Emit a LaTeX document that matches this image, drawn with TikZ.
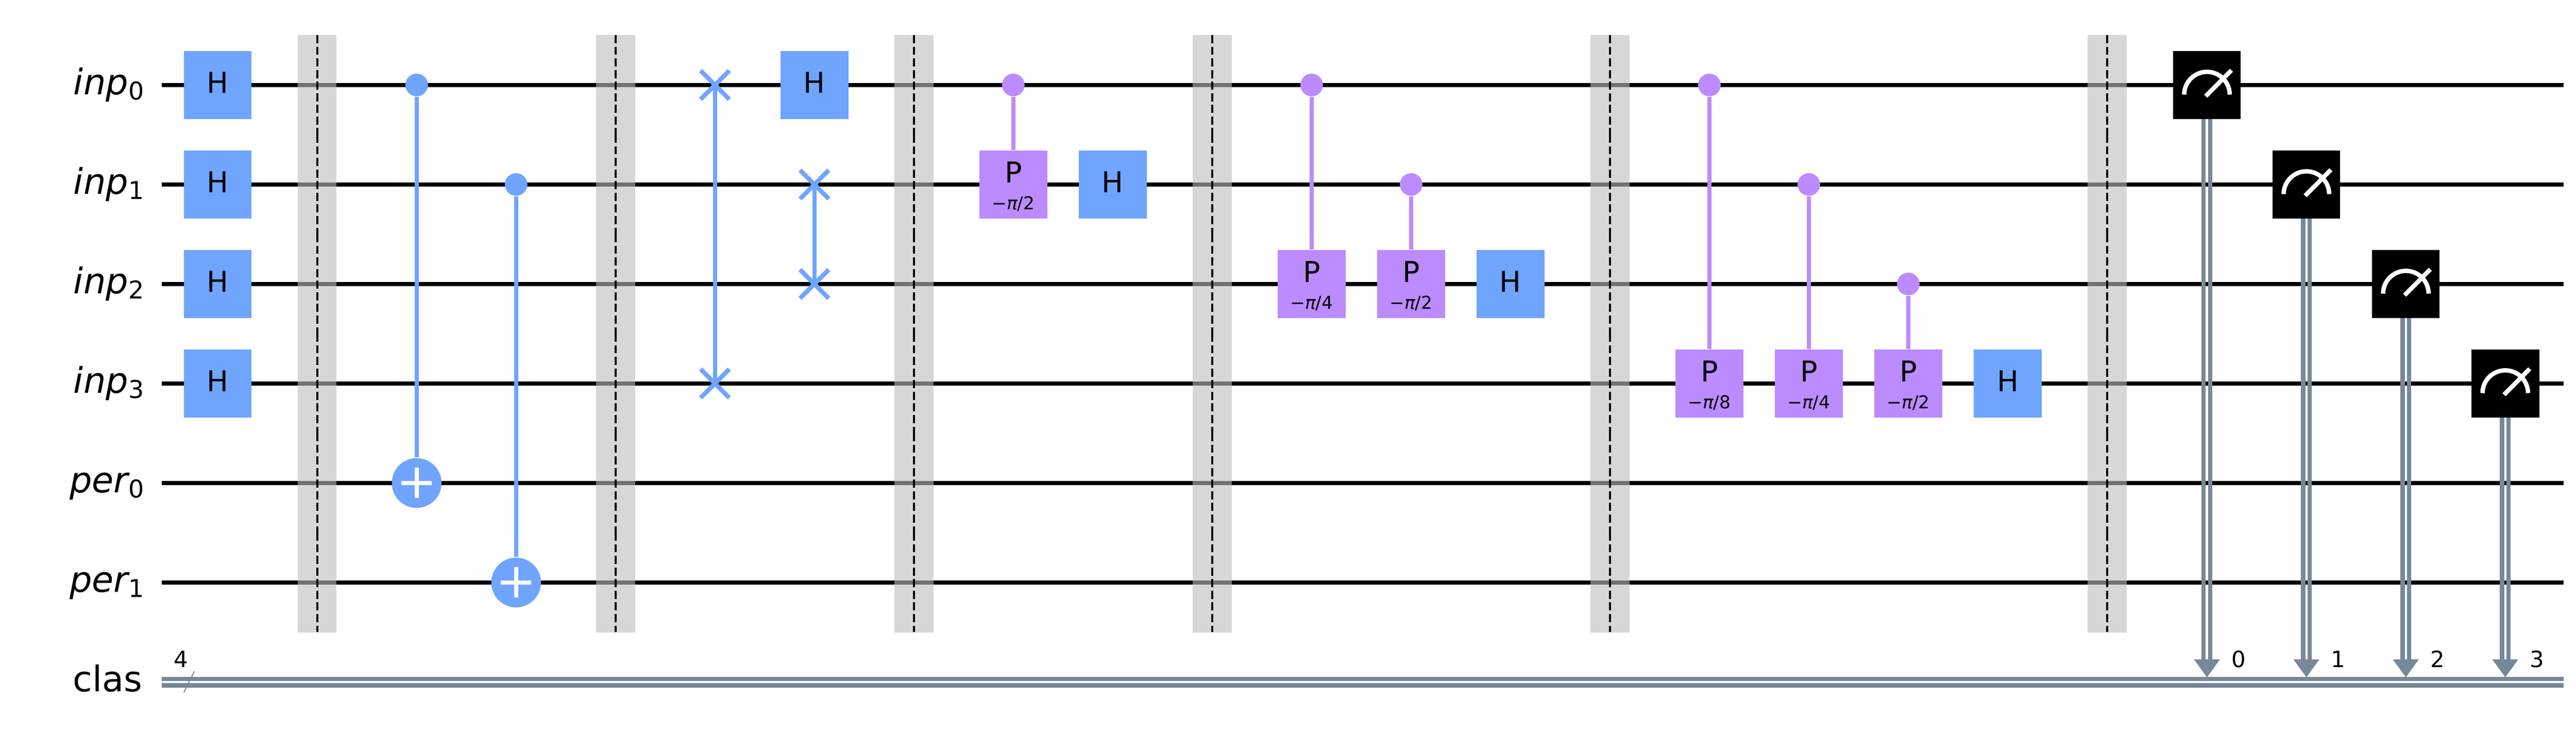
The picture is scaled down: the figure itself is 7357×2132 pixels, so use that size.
\documentclass[tikz,border=0pt]{standalone}
\usepackage{fontspec}
\setmainfont{DejaVu Sans}
\definecolor{qblue}{HTML}{6FA4FF}
\definecolor{qpurple}{HTML}{BB8BFF}
\definecolor{qgray}{HTML}{778899}
\definecolor{qbar}{HTML}{BDBDBD}
\def\ya{242.5}\def\yb{526.5}\def\yc{810.5}\def\yd{1094.5}\def\ye{1378.5}\def\yf{1662.5}
\newcommand{\hgate}[3]{%
  \node[gatebox,fill=qblue] (#1) at (#2,#3) {};
  \node[gatetxt] (#1t) at (#2,#3+22.5) {H};}
\newcommand{\pgate}[4]{%
  \node[gatebox,fill=qpurple] (#1) at (#2,#3) {};
  \node[gatetxt] (#1t) at (#2,#3-5) {P};
  \node[angletxt] (#1a) at (#2,#3+71) {−{\itshape π}/#4};}
\newcommand{\barr}[2]{%
  \node[barbox] (#1) at (#2,952.5) {};
  \foreach \s in {0,...,5}{
    \coordinate (#1s\s) at (#2,100+284*\s);
    \coordinate (#1e\s) at (#2,384+284*\s);
    \draw[bardash] (#1s\s) -- (#1e\s);
  }}
\newcommand{\meas}[5]{%
  \coordinate (#1a) at (#2,1882);
  \draw[cbit] ([xshift=-0.95pt]#1a) -- ([xshift=-0.95pt,yshift=-1pt]#2,#3);
  \draw[cbit] ([xshift=0.95pt]#1a) -- ([xshift=0.95pt,yshift=-1pt]#2,#3);
  \fill[qgray] (#1a) ++(-37,0) -- ++(74,0) -- ++(-37,51) -- cycle;
  \node[measbox] (#1) at (#2,#3) {};
  \draw[meter] (#1.center) ++(-65,27.5) arc[start angle=180,end angle=0,radius=6.5pt];
  \draw[meter] (#1.center) ++(-3.5,32) -- ++(73.5,-74);
  \node[idxtxt] (#1n) at (#2+91,1905) {#4};}
\tikzset{
  x=0.1pt,y=-0.1pt,
  wire/.style={line width=1.25pt,black},
  gatebox/.style={rectangle,draw=none,minimum size=19.35pt,inner sep=0pt},
  gatetxt/.style={anchor=base,inner sep=0pt,font=\fontsize{8.2}{10}\selectfont},
  angletxt/.style={anchor=base,inner sep=0pt,font=\fontsize{5.06}{6}\selectfont},
  idxtxt/.style={anchor=base,inner sep=0pt,font=\fontsize{6.4}{8}\selectfont},
  regtxt/.style={anchor=base east,inner sep=0pt,font=\fontsize{10.1}{12}\selectfont},
  barbox/.style={rectangle,draw=none,fill=qbar,fill opacity=0.6,minimum width=11.1pt,minimum height=170.5pt,inner sep=0pt},
  bardash/.style={line width=0.65pt,black,dash pattern=on 2.33pt off 0.99pt},
  cbit/.style={line width=1.25pt,qgray},
  measbox/.style={rectangle,fill=black,draw=none,minimum size=19.35pt,inner sep=0pt},
  meter/.style={line width=1.25pt,white},
  ctrlb/.style={circle,fill=qblue,draw=none,minimum size=6.45pt,inner sep=0pt},
  ctrlp/.style={circle,fill=qpurple,draw=none,minimum size=6.45pt,inner sep=0pt},
  targ/.style={circle,fill=qblue,draw=none,minimum size=14.2pt,inner sep=0pt},
  linkb/.style={line width=1.25pt,qblue},
  linkp/.style={line width=1.25pt,qpurple},
  plus/.style={line width=1.25pt,white},
}
\begin{document}
\begin{tikzpicture}
\useasboundingbox (0,0) rectangle (7357,2132);
\fill[white] (0,0) rectangle (7357,2132);
% register labels
\def\subs#1{\raisebox{-1.45pt}{\fontsize{7}{8}\selectfont #1}}
\node[regtxt] (l0) at (413,\ya+27.5) {{\itshape inp}\subs{0}};
\node[regtxt] (l1) at (413,\yb+27.5) {{\itshape inp}\subs{1}};
\node[regtxt] (l2) at (413,\yc+27.5) {{\itshape inp}\subs{2}};
\node[regtxt] (l3) at (413,\yd+27.5) {{\itshape inp}\subs{3}};
\node[regtxt] (l4) at (413,\ye+27.5) {{\itshape per}\subs{0}};
\node[regtxt] (l5) at (413,\yf+27.5) {{\itshape per}\subs{1}};
\node[regtxt] (l6) at (408,1974) {clas};
% wires
\foreach \n/\y in {0/\ya,1/\yb,2/\yc,3/\yd,4/\ye,5/\yf}{
  \coordinate (wl\n) at (462,\y);
  \coordinate (wr\n) at (7321,\y);
  \draw[wire] (wl\n) -- (wr\n);
}
\coordinate (cl) at (462,1947);
\coordinate (cr) at (7321,1947);
\draw[cbit] ([yshift=0.95pt]cl) -- ([yshift=0.95pt]cr);
\draw[cbit] ([yshift=-0.95pt]cl) -- ([yshift=-0.95pt]cr);
\coordinate (sa) at (525,1976);
\coordinate (sb) at (555,1916);
\draw[qgray,line width=0.3pt] (sa) -- (sb);
\node[idxtxt] (cn) at (517,1904) {4};
% first H column
\hgate{ha}{622}{\ya}
\hgate{hb}{622}{\yb}
\hgate{hc}{622}{\yc}
\hgate{hd}{622}{\yd}
% CX gates
\node[ctrlb] (c0) at (1190,\ya) {};
\node[targ] (t0) at (1190,\ye) {};
\draw[linkb] (c0) -- (t0);
\draw[plus] (t0.center) ++(-43.5,0) -- ++(87,0);
\draw[plus] (t0.center) ++(0,-43.5) -- ++(0,87);
\node[ctrlb] (c1) at (1474,\yb) {};
\node[targ] (t1) at (1474,\yf) {};
\draw[linkb] (c1) -- (t1);
\draw[plus] (t1.center) ++(-43.5,0) -- ++(87,0);
\draw[plus] (t1.center) ++(0,-43.5) -- ++(0,87);
% swaps
\coordinate (s0a) at (2042,\ya);
\coordinate (s0b) at (2042,\yd);
\coordinate (s1a) at (2326,\yb);
\coordinate (s1b) at (2326,\yc);
\draw[linkb] (s0a) -- (s0b);
\draw[linkb] (s1a) -- (s1b);
\foreach \p in {s0a,s0b,s1a,s1b}{
  \draw[linkb] (\p) ++(-41,-41) -- ++(82,82);
  \draw[linkb] (\p) ++(-41,41) -- ++(82,-82);
}
\hgate{he}{2326}{\ya}
% controlled phases
\node[ctrlp] (c2) at (2894,\ya) {};
\pgate{p0}{2894}{\yb}{2}
\draw[linkp] (c2) -- (p0);
\hgate{hf}{3178}{\yb}
\node[ctrlp] (c3) at (3746,\ya) {};
\pgate{p1}{3746}{\yc}{4}
\draw[linkp] (c3) -- (p1);
\node[ctrlp] (c4) at (4030,\yb) {};
\pgate{p2}{4030}{\yc}{2}
\draw[linkp] (c4) -- (p2);
\hgate{hg}{4314}{\yc}
\node[ctrlp] (c5) at (4882,\ya) {};
\pgate{p3}{4882}{\yd}{8}
\draw[linkp] (c5) -- (p3);
\node[ctrlp] (c6) at (5166,\yb) {};
\pgate{p4}{5166}{\yd}{4}
\draw[linkp] (c6) -- (p4);
\node[ctrlp] (c7) at (5450,\yc) {};
\pgate{p5}{5450}{\yd}{2}
\draw[linkp] (c7) -- (p5);
\hgate{hh}{5734}{\yd}
% barriers
\barr{ba}{906}
\barr{bb}{1758}
\barr{bc}{2610}
\barr{bd}{3462}
\barr{be}{4598}
\barr{bf}{6018}
% measurements
\meas{ma}{6303}{\ya}{0}{}
\meas{mb}{6587}{\yb}{1}{}
\meas{mc}{6871}{\yc}{2}{}
\meas{md}{7155}{\yd}{3}{}
\end{tikzpicture}
\end{document}
